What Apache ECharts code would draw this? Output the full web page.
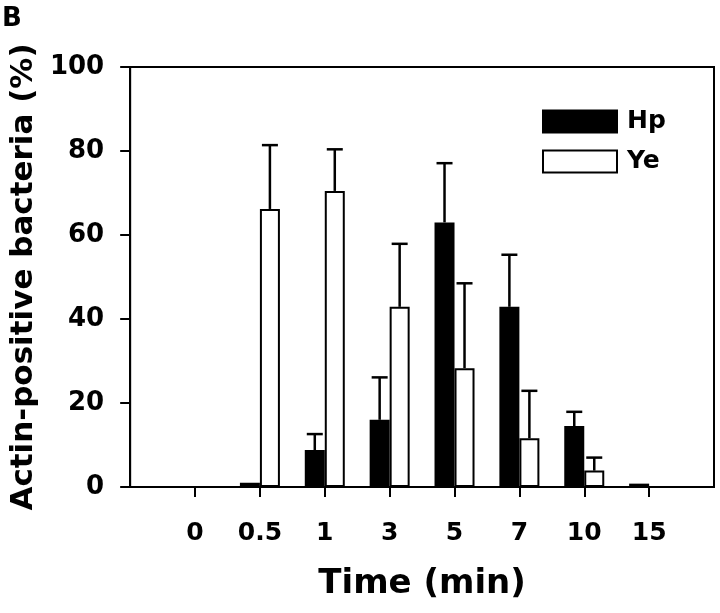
<!DOCTYPE html>
<html>
<head>
<meta charset="utf-8">
<script src="https://cdn.jsdelivr.net/npm/echarts@6/dist/echarts.min.js"></script>
<style>
html,body{margin:0;padding:0;background:#fff;}
#chart{width:720px;height:613px;}
</style>
</head>
<body>
<div id="chart"></div>
<script>
// Data
const timeLabels = ['0', '0.5', '1', '3', '5', '7', '10', '15'];
const hpMean = [0, 1, 8.8, 16, 63, 42.9, 14.5, 0.8];
const hpErr  = [0, 0, 3.8, 10.1, 14.1, 12.4, 3.4, 0];
const yeMean = [0, 66.2, 70.5, 42.9, 28.3, 11.6, 3.9, 0];
const yeErr  = [0, 15.2, 9.9, 15, 20.2, 11.3, 3.1, 0];
const yTicks = [0, 20, 40, 60, 80, 100];

const FONT = 'DejaVu Sans';
const BAR_W = 20;

// category axis with one empty slot at each end
const categories = [''].concat(timeLabels, ['']);
function padded(arr) { return [null].concat(arr, [null]); }
function errData(mean, err) {
  const out = [];
  mean.forEach((m, i) => { if (err[i] > 0) out.push([i + 1, m, err[i]]); });
  return out;
}
function errRender(offsetX) {
  return function (params, api) {
    const idx = api.value(0), m = api.value(1), e = api.value(2);
    const p0 = api.coord([idx, m]);
    const p1 = api.coord([idx, m + e]);
    const x = p0[0] + offsetX;
    const style = { stroke: '#000', lineWidth: 2.5 };
    return {
      type: 'group',
      children: [
        { type: 'line', shape: { x1: x, y1: p0[1], x2: x, y2: p1[1] }, style: style },
        { type: 'line', shape: { x1: x - 8, y1: p1[1], x2: x + 8, y2: p1[1] }, style: style }
      ]
    };
  };
}

const chart = echarts.init(document.getElementById('chart'), null, { renderer: 'canvas' });
chart.setOption({
  animation: false,
  backgroundColor: '#fff',
  textStyle: { fontFamily: FONT },
  grid: {
    left: 128, right: 6, top: 67, bottom: 126,
    show: true, borderColor: '#000', borderWidth: 2, backgroundColor: 'transparent'
  },
  graphic: [{
    type: 'text', left: 2, top: 6,
    style: { text: 'B', font: 'bold 26px "DejaVu Sans"', fill: '#000' }
  }],
  legend: {
    orient: 'vertical', left: 537, top: 104,
    itemWidth: 74, itemHeight: 22, itemGap: 15,
    icon: 'rect',
    textStyle: { fontFamily: FONT, fontWeight: 'bold', fontSize: 25, color: '#000', padding: [0, 0, 0, 5] },
    data: ['Hp', 'Ye']
  },
  xAxis: {
    type: 'category',
    data: categories,
    boundaryGap: false,
    axisLine: { lineStyle: { color: '#000', width: 2 } },
    axisTick: {
      length: 10, lineStyle: { color: '#000', width: 2 },
      interval: function (i) { return i >= 1 && i <= timeLabels.length; }
    },
    axisLabel: {
      interval: 0, margin: 34,
      fontFamily: FONT, fontWeight: 'bold', fontSize: 25, color: '#000'
    },
    name: 'Time (min)',
    nameLocation: 'middle', nameGap: 80,
    nameTextStyle: { fontFamily: FONT, fontWeight: 'bold', fontSize: 34, color: '#000' },
    splitLine: { show: false }
  },
  yAxis: {
    type: 'value', min: yTicks[0], max: yTicks[yTicks.length - 1], interval: 20,
    axisLine: { show: true, lineStyle: { color: '#000', width: 2 } },
    axisTick: { show: true, length: 10, lineStyle: { color: '#000', width: 2 } },
    axisLabel: { margin: 26, fontFamily: FONT, fontWeight: 'bold', fontSize: 26, color: '#000' },
    splitLine: { show: false },
    name: 'Actin-positive bacteria (%)',
    nameLocation: 'middle', nameGap: 91,
    nameTextStyle: { fontFamily: FONT, fontWeight: 'bold', fontSize: 31, color: '#000' }
  },
  series: [
    {
      name: 'Hp', type: 'bar', data: padded(hpMean), barWidth: BAR_W, barGap: '0%',
      itemStyle: { color: '#000', borderColor: '#000', borderWidth: 2 }
    },
    {
      name: 'Ye', type: 'bar', data: padded(yeMean), barWidth: BAR_W, barGap: '0%',
      itemStyle: { color: '#fff', borderColor: '#000', borderWidth: 2 }
    },
    {
      name: 'HpErr', type: 'custom', data: errData(hpMean, hpErr), z: 5,
      encode: { x: 0, y: 1 }, renderItem: errRender(-BAR_W / 2)
    },
    {
      name: 'YeErr', type: 'custom', data: errData(yeMean, yeErr), z: 5,
      encode: { x: 0, y: 1 }, renderItem: errRender(BAR_W / 2)
    }
  ]
});
</script>
</body>
</html>
